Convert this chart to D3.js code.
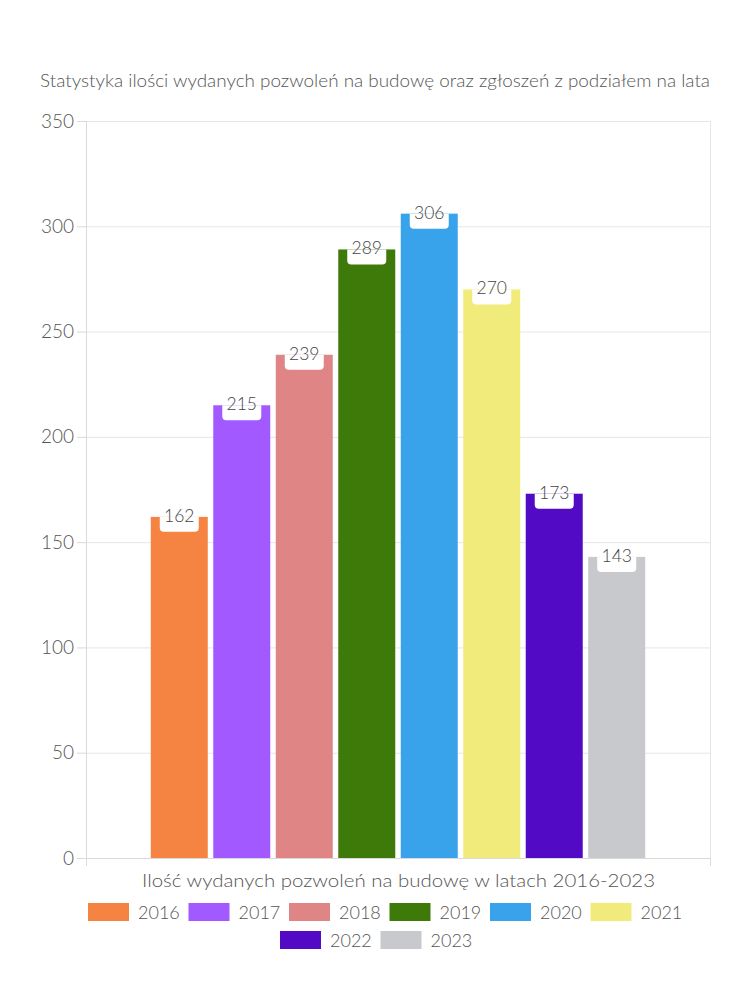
<!DOCTYPE html>
<html><head><meta charset="utf-8">
<script src="https://cdn.jsdelivr.net/npm/d3@7"></script>
<style>body{margin:0;background:#fff}svg{display:block}</style>
</head><body>
<svg id="c" width="750" height="1000"></svg>
<script>
const categories = ["Ilość wydanych pozwoleń na budowę w latach 2016-2023"];
const seriesNames = ["2016","2017","2018","2019","2020","2021","2022","2023"];
const seriesValues = [162,215,239,289,306,270,173,143];
const seriesColors = ["#f58442","#a259ff","#e08585","#3d7a0a","#38a3ea","#f0eb7a","#520ac4","#c8c9cd"];
const yTicks = [0,50,100,150,200,250,300,350];
const title = "Statystyka ilości wydanych pozwoleń na budowę oraz zgłoszeń z podziałem na lata";

const font = "Lato, 'Open Sans', sans-serif";
const svg = d3.select("#c");
const L=86,R=710,T=121,B=858;
const y = d3.scaleLinear().domain([0,350]).range([B,T]);
const x0 = d3.scaleBand().domain(categories).range([L,R]).paddingInner(0).paddingOuter(0.131);
const x1 = d3.scaleBand().domain(seriesNames).range([0,x0.bandwidth()]).paddingInner(0.088);

svg.append("text").attr("x",40).attr("y",87)
  .attr("textLength",670).attr("lengthAdjust","spacingAndGlyphs")
  .attr("font-family",font).attr("font-weight",300).attr("font-size",17.5).attr("fill","#555").text(title);

// grid
svg.append("g").selectAll("line").data(yTicks.filter(d=>d>0)).join("line")
  .attr("x1",L).attr("x2",R).attr("y1",d=>y(d)+0.5).attr("y2",d=>y(d)+0.5)
  .attr("stroke","#e6e6e6");
// frame
svg.append("line").attr("x1",L+0.5).attr("x2",L+0.5).attr("y1",T).attr("y2",B).attr("stroke","#d9d9d9");
svg.append("line").attr("x1",R+0.5).attr("x2",R+0.5).attr("y1",T).attr("y2",B+8).attr("stroke","#e6e6e6");

const yAxis = svg.append("g").attr("transform",`translate(${L},0)`)
  .call(d3.axisLeft(y).tickValues(yTicks).tickSize(9).tickPadding(3));
yAxis.select(".domain").remove();
yAxis.selectAll(".tick line").attr("stroke","#d9d9d9");
yAxis.selectAll(".tick text").attr("font-family",font).attr("font-weight",300)
  .attr("font-size",19).attr("fill","#555");

// bars
const g = svg.append("g").attr("transform",`translate(${x0(categories[0])},0)`);
g.selectAll("rect").data(seriesNames).join("rect")
  .attr("x",d=>x1(d)).attr("width",x1.bandwidth())
  .attr("y",(d,i)=>y(seriesValues[i])).attr("height",(d,i)=>B-y(seriesValues[i]))
  .attr("fill",(d,i)=>seriesColors[i]);

// x axis
const xAxis = svg.append("g").attr("transform",`translate(0,${B})`)
  .call(d3.axisBottom(x0).tickSize(0).tickFormat(""));
xAxis.select(".domain").attr("stroke","#d9d9d9").attr("d",`M${L+0.5},8V0.5H${R+0.5}V8`);
svg.append("text").attr("x",142).attr("y",887)
  .attr("textLength",513).attr("lengthAdjust","spacingAndGlyphs")
  .attr("font-family",font).attr("font-weight",300).attr("font-size",18.5).attr("fill","#555").text(categories[0]);

// labels
const lab = g.selectAll("g.lab").data(seriesNames).join("g").attr("class","lab")
  .attr("transform",(d,i)=>`translate(${x1(d)+x1.bandwidth()/2},${y(seriesValues[i])})`);
lab.append("path").attr("fill","#fff")
  .attr("d",()=>{const w=39,h=15,r=4;const a=-w/2,b=w/2;
    return `M${a},0H${b}V${h-r}Q${b},${h} ${b-r},${h}H${a+r}Q${a},${h} ${a},${h-r}Z`;});
lab.append("text").attr("y",5).attr("text-anchor","middle")
  .attr("font-family",font).attr("font-weight",300).attr("font-size",17.5).attr("fill","#444")
  .text((d,i)=>seriesValues[i]);

// legend
const rows=[seriesNames.slice(0,6),seriesNames.slice(6)];
const rowX=[88,280], rowY=[903,931];
rows.forEach((r,ri)=>{
  r.forEach((name,j)=>{
    const i=seriesNames.indexOf(name);
    const lx=rowX[ri]+j*100.5;
    svg.append("rect").attr("x",lx).attr("y",rowY[ri]).attr("width",41).attr("height",18).attr("fill",seriesColors[i]);
    svg.append("text").attr("x",lx+50).attr("y",rowY[ri]+16).attr("font-family",font).attr("font-weight",300)
      .attr("font-size",18).attr("fill","#555").text(name);
  });
});
</script>
</body></html>
